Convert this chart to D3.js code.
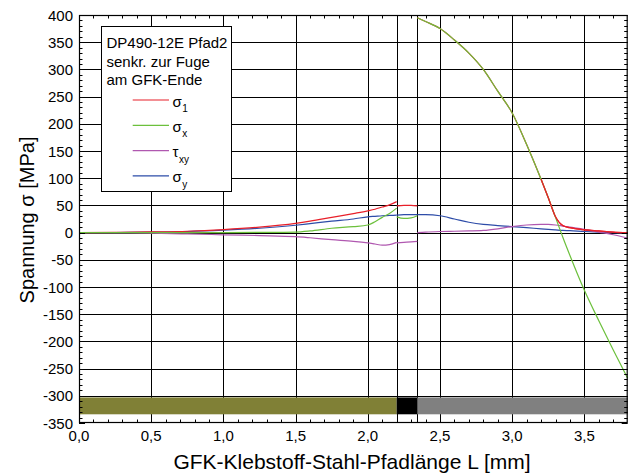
<!DOCTYPE html>
<html>
<head>
<meta charset="utf-8">
<script src="https://cdn.jsdelivr.net/npm/d3@7"></script>
<style>
  html, body { margin: 0; padding: 0; background: #fff; }
  svg { display: block; font-family: "Liberation Sans", Arial, sans-serif; }
</style>
</head>
<body>
<svg id="chart" width="640" height="474"></svg>
<script>
// ---------------- data ----------------
const xTicks = [0, 0.5, 1.0, 1.5, 2.0, 2.5, 3.0, 3.5];
const yTicks = [-350, -300, -250, -200, -150, -100, -50, 0, 50, 100, 150, 200, 250, 300, 350, 400];

const materials = ["GFK", "Klebstoff", "Stahl"];
const materialBounds = [0, 2.2, 2.343, 3.8];

// GFK region
const L_gfk    = [0, 0.25, 0.5, 0.75, 1.0, 1.25, 1.5, 1.6, 1.75, 1.9, 2.0, 2.05, 2.1, 2.15, 2.2];
const s1_gfk   = [0, 0.3, 1.2, 2.5, 5.5, 10, 17, 21, 28, 35, 40, 43, 47, 51, 57];
const sx_gfk   = [0, 0, 0, 0, 0, 0.3, 1, 3, 8, 11, 14, 20, 28, 35, 45];
const txy_gfk  = [0, -0.5, -1.2, -2.5, -4, -5.5, -7.5, -9.5, -13, -16, -19, -21, -23, -22, -18];
const sy_gfk   = [0, 0.2, 0.8, 2, 4.5, 8, 13.5, 16.5, 21, 25, 29, 30, 31, 31.5, 32];

// Klebstoff (adhesive) region
const L_adh    = [2.2, 2.25, 2.3, 2.343];
const s1_adh   = [49, 50, 50, 49];
const sx_adh   = [29, 26, 27, 31];
const txy_adh  = [-19, -18, -17, -16];
const sy_adh   = [32, 33, 33, 33];

// Stahl (steel) region
const L_st     = [2.343, 2.4, 2.5, 2.6, 2.7, 2.8, 2.9, 3.0, 3.1, 3.2, 3.25, 3.3, 3.35, 3.4, 3.5, 3.6, 3.7, 3.8];
const s1_st    = [395, 388, 375, 354, 330, 300, 260, 220, 162, 98, 64, 29, 13, 9, 5, 3, 1, 0];
const sx_st    = [395, 388, 375, 354, 330, 300, 260, 220, 162, 98, 64, 28, -8, -42, -106, -162, -216, -268];
const txy_st   = [0, 1, 2, 2.5, 3, 4, 7, 11, 14, 15, 15, 14, 12, 10, 6, 1, -4, -10];
const sy_st    = [33, 33, 31, 25, 19, 15, 13, 11, 9, 7, 6, 5, 4, 3.5, 2, 1, 0, -1];

const legendTitle = ["DP490-12E Pfad2", "senkr. zur Fuge", "am GFK-Ende"];
const seriesNames = [["σ", "1"], ["σ", "x"], ["τ", "xy"], ["σ", "y"]];

// ---------------- layout ----------------
const svg = d3.select("#chart");
const plot = { left: 79, right: 627.7, top: 15, bottom: 423 };
const x = d3.scaleLinear().domain([0, 3.8]).range([plot.left, plot.right]);
const y = d3.scaleLinear().domain([-350, 400]).range([plot.bottom, plot.top]);

const colors = ["#e8202a", "#6cc03c", "#b058b0", "#2d4ca8"];
const matColors = ["#808036", "#000000", "#808080"];

// grid
const g = svg.append("g");
g.selectAll(".vg").data(xTicks.filter(d => d > 0)).enter().append("line")
  .attr("x1", d => Math.round(x(d)) + 0.5).attr("x2", d => Math.round(x(d)) + 0.5)
  .attr("y1", plot.top).attr("y2", plot.bottom)
  .attr("stroke", "#000").attr("stroke-width", 1);
g.selectAll(".hg").data(yTicks.filter(d => d > -350 && d < 400)).enter().append("line")
  .attr("y1", d => Math.round(y(d)) + 0.5).attr("y2", d => Math.round(y(d)) + 0.5)
  .attr("x1", plot.left).attr("x2", plot.right)
  .attr("stroke", "#000").attr("stroke-width", 1);
// interface lines
g.selectAll(".ig").data(materialBounds.slice(1, 3)).enter().append("line")
  .attr("x1", d => Math.round(x(d)) + 0.5).attr("x2", d => Math.round(x(d)) + 0.5)
  .attr("y1", plot.top).attr("y2", plot.bottom)
  .attr("stroke", "#000").attr("stroke-width", 1);

// material bar
const barTop = -303, barBottom = -334;
svg.append("g").selectAll("rect").data(materials).enter().append("rect")
  .attr("x", (d, i) => x(materialBounds[i]))
  .attr("width", (d, i) => x(materialBounds[i + 1]) - x(materialBounds[i]))
  .attr("y", y(barTop)).attr("height", y(barBottom) - y(barTop))
  .attr("fill", (d, i) => matColors[i]);

// curves
const line = d3.line().x(d => x(d[0])).y(d => y(d[1])).curve(d3.curveMonotoneX);
const regions = [
  [L_gfk, [s1_gfk, sx_gfk, txy_gfk, sy_gfk]],
  [L_adh, [s1_adh, sx_adh, txy_adh, sy_adh]],
  [L_st,  [s1_st, sx_st, txy_st, sy_st]]
];
const drawOrder = [3, 2, 0, 1];
const cg = svg.append("g");
regions.forEach(([Ls, series]) => {
  drawOrder.forEach(si => {
    const pts = Ls.map((l, i) => [l, series[si][i]]);
    cg.append("path").attr("d", line(pts))
      .attr("fill", "none").attr("stroke", colors[si]).attr("stroke-width", 1.2);
  });
});
{
  const pts = L_st.map((l, i) => [l, s1_st[i]]).filter(d => d[0] >= 3.2);
  cg.append("path").attr("d", line(pts))
    .attr("fill", "none").attr("stroke", colors[0]).attr("stroke-width", 1.2);
}

// frame
svg.append("rect").attr("x", plot.left + 0.5).attr("y", plot.top + 0.5)
  .attr("width", plot.right - plot.left - 1).attr("height", plot.bottom - plot.top - 1)
  .attr("fill", "none").attr("stroke", "#000").attr("stroke-width", 1.2);

// minor ticks (inward on all sides)
const xMinor = d3.range(0, 38).map(i => i / 10);
const yMinor = d3.range(-35, 41).map(i => i * 10);
const tk = svg.append("g").attr("stroke", "#000").attr("stroke-width", 1);
xMinor.forEach(v => {
  const len = (Math.round(v * 10) % 5 === 0) ? 6 : 3.5;
  const xx = Math.round(x(v)) + 0.5;
  tk.append("line").attr("x1", xx).attr("x2", xx).attr("y1", plot.bottom).attr("y2", plot.bottom - len);
  tk.append("line").attr("x1", xx).attr("x2", xx).attr("y1", plot.top).attr("y2", plot.top + len);
});
yMinor.forEach(v => {
  const len = (v % 50 === 0) ? 6 : 3.5;
  const yy = Math.round(y(v)) + 0.5;
  tk.append("line").attr("y1", yy).attr("y2", yy).attr("x1", plot.left).attr("x2", plot.left + len);
  tk.append("line").attr("y1", yy).attr("y2", yy).attr("x1", plot.right).attr("x2", plot.right - len);
});

// tick labels
const fmtX = d => d3.format(".1f")(d).replace(".", ",");
svg.append("g").selectAll("text").data(xTicks).enter().append("text")
  .attr("x", d => x(d)).attr("y", 441).attr("text-anchor", "middle")
  .attr("font-size", 15).text(fmtX);
svg.append("g").selectAll("text").data(yTicks).enter().append("text")
  .attr("x", 73).attr("y", d => y(d) + 5.5).attr("text-anchor", "end")
  .attr("font-size", 15).text(d => d < 0 ? "-" + Math.abs(d) : String(d));

// axis titles
svg.append("text").attr("x", 352).attr("y", 469)
  .attr("text-anchor", "middle").attr("font-size", 21)
  .text("GFK-Klebstoff-Stahl-Pfadlänge L [mm]");
svg.append("text").attr("transform", `translate(34,220) rotate(-90)`)
  .attr("text-anchor", "middle").attr("font-size", 20)
  .text("Spannung σ [MPa]");

// legend
const lg = svg.append("g");
lg.append("rect").attr("x", 101.5).attr("y", 26.5).attr("width", 130).attr("height", 165)
  .attr("fill", "#fff").attr("stroke", "#000").attr("stroke-width", 1);
legendTitle.forEach((t, i) => {
  lg.append("text").attr("x", 106.5).attr("y", 48 + i * 18.5).attr("font-size", 15).text(t);
});
seriesNames.forEach((s, i) => {
  const ly = 100 + i * 25.3;
  lg.append("line").attr("x1", 132.7).attr("x2", 169).attr("y1", ly).attr("y2", ly)
    .attr("stroke", colors[i]).attr("stroke-width", 1.2);
  const t = lg.append("text").attr("x", 172.5).attr("y", ly + 6.5).attr("font-size", 15);
  t.append("tspan").text(s[0]);
  t.append("tspan").attr("font-size", 10).attr("dy", 5.5).attr("dx", 0.5).text(s[1]);
});
</script>
</body>
</html>
